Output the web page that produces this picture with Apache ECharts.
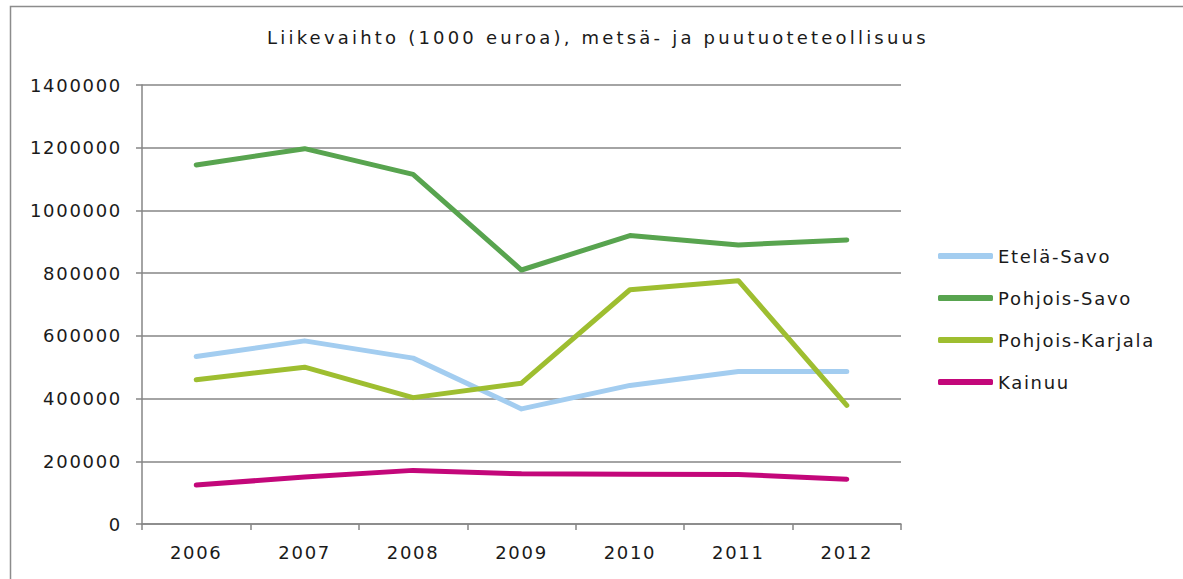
<!DOCTYPE html>
<html>
<head>
<meta charset="utf-8">
<script src="https://cdn.jsdelivr.net/npm/echarts@6/dist/echarts.min.js"></script>
<style>
  html, body { margin: 0; padding: 0; background: #fff; }
  #chart { width: 1183px; height: 579px; }
  /* the wide, airy lettering of the labels */
  #chart text { letter-spacing: 1.7px; }
</style>
</head>
<body>
<div id="chart"></div>
<script>
// Liikevaihto (1000 euroa), metsä- ja puutuoteteollisuus, 2006–2012
const years = ['2006', '2007', '2008', '2009', '2010', '2011', '2012'];
const etelaSavo = [534000, 584000, 529000, 367000, 442000, 486000, 486000];
const pohjoisSavo = [1145000, 1197000, 1115000, 810000, 920000, 890000, 906000];
const pohjoisKarjala = [460000, 500000, 403000, 449000, 747000, 776000, 378000];
const kainuu = [124000, 150000, 171000, 160000, 159000, 158000, 143000];

const seriesNames = ['Etelä-Savo', 'Pohjois-Savo', 'Pohjois-Karjala', 'Kainuu'];
const seriesValues = [etelaSavo, pohjoisSavo, pohjoisKarjala, kainuu];
const seriesColors = ['#A3CDF0', '#58A44F', '#9EBE30', '#C3077A'];
const titleText = 'Liikevaihto (1000 euroa), metsä- ja puutuoteteollisuus';

const font = '"DejaVu Sans", Verdana, sans-serif';
const chart = echarts.init(document.getElementById('chart'), null, { renderer: 'svg' });

chart.setOption({
  backgroundColor: '#ffffff',
  animation: false,
  title: {
    text: titleText,
    left: 267,
    top: 28,
    padding: 0,
    textStyle: { fontFamily: font, fontSize: 18, fontWeight: 'normal', color: '#1a1a1a' }
  },
  graphic: [{
    type: 'polyline',
    shape: { points: [[10.5, 600], [10.5, 6.5], [1200, 6.5]] },
    style: { stroke: '#8c8c8c', lineWidth: 1.5, fill: null },
    silent: true
  }],
  legend: {
    orient: 'vertical',
    left: 938,
    top: 247,
    padding: 0,
    itemWidth: 55,
    itemHeight: 6,
    itemGap: 24,
    icon: 'roundRect',
    data: seriesNames,
    textStyle: { fontFamily: font, fontSize: 18, color: '#1a1a1a' }
  },
  grid: { left: 142, right: 282, top: 85, bottom: 55, containLabel: false },
  xAxis: {
    type: 'category',
    data: years,
    boundaryGap: true,
    axisLine: { lineStyle: { color: '#868686', width: 1.5 } },
    axisTick: { show: true, length: 6, interval: 0, lineStyle: { color: '#868686', width: 1.5 } },
    axisLabel: { fontFamily: font, fontSize: 18, color: '#1a1a1a', margin: 19 }
  },
  yAxis: {
    type: 'value',
    min: 0,
    max: 1400000,
    interval: 200000,
    axisLine: { show: true, lineStyle: { color: '#868686', width: 1.5 } },
    axisTick: { show: true, length: 6, lineStyle: { color: '#868686', width: 1.5 } },
    axisLabel: { fontFamily: font, fontSize: 18, color: '#1a1a1a', margin: 20, formatter: v => String(v) },
    splitLine: { show: true, lineStyle: { color: '#868686', width: 1.5 } }
  },
  series: seriesNames.map((name, i) => ({
    name: name,
    type: 'line',
    data: seriesValues[i],
    symbol: 'none',
    showSymbol: false,
    color: seriesColors[i],
    lineStyle: { color: seriesColors[i], width: 5, cap: 'round', join: 'round' }
  }))
});

// the heading is set with looser tracking than the labels
function spaceTitle() {
  document.querySelectorAll('#chart text').forEach(t => {
    if (t.textContent === titleText) t.style.letterSpacing = '3.2px';
  });
}
chart.on('finished', spaceTitle);
spaceTitle();
</script>
</body>
</html>
